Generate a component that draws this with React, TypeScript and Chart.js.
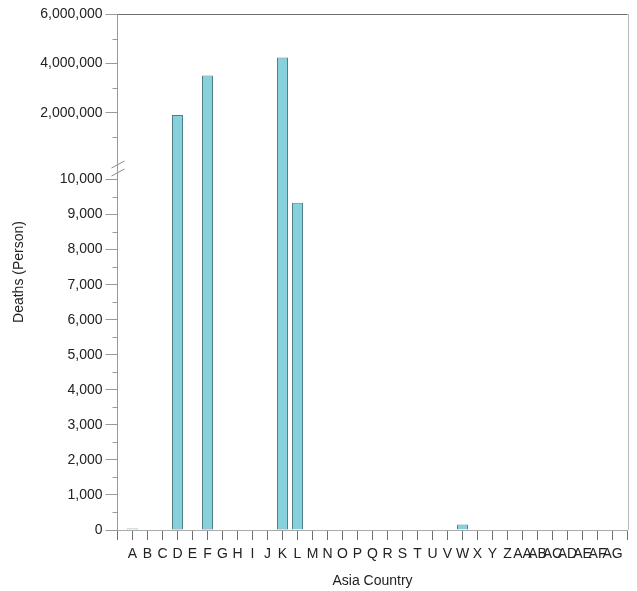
import React, { useEffect, useRef } from 'react';
import { Chart, registerables } from 'chart.js';

Chart.register(...registerables);

const categories = [
  'A', 'B', 'C', 'D', 'E', 'F', 'G', 'H', 'I', 'J', 'K', 'L', 'M', 'N', 'O', 'P', 'Q',
  'R', 'S', 'T', 'U', 'V', 'W', 'X', 'Y', 'Z', 'AA', 'AB', 'AC', 'AD', 'AE', 'AF', 'AG',
];
const deaths = [
  45, 0, 0, 1910000, 0, 3505000, 0, 0, 0, 0, 4240000, 9340, 0, 0, 0, 0, 0,
  0, 0, 0, 0, 0, 160, 15, 0, 0, 0, 0, 0, 0, 0, 0, 0,
];
const lowTicks = [0, 1000, 2000, 3000, 4000, 5000, 6000, 7000, 8000, 9000, 10000];
const highTicks = [2000000, 4000000, 6000000];
const LOW_MAX = 10500;
const HIGH_MAX = 6000000;
const yTitle = 'Deaths (Person)';
const xTitle = 'Asia Country';

const FONT = "'Liberation Sans', Arial, sans-serif";
const fmt = (v: number) => Math.round(v).toLocaleString('en-US');

const decorPlugin = {
  id: 'decor',
  afterDraw(chart: any) {
    const { ctx, chartArea } = chart;
    const low = chart.scales.yLow;
    const high = chart.scales.yHigh;
    ctx.save();
    ctx.lineWidth = 1;
    ctx.strokeStyle = '#6e6e6e';
    ctx.beginPath();
    ctx.moveTo(chartArea.left, Math.round(chartArea.top) + 0.5);
    ctx.lineTo(chartArea.right, Math.round(chartArea.top) + 0.5);
    ctx.stroke();
    ctx.strokeStyle = '#b8b8b8';
    ctx.beginPath();
    ctx.moveTo(Math.round(chartArea.right) + 0.5, chartArea.top);
    ctx.lineTo(Math.round(chartArea.right) + 0.5, chartArea.bottom);
    ctx.stroke();
    // minor ticks (midway between labelled ticks)
    ctx.strokeStyle = '#9a9a9a';
    const ax = Math.floor(chartArea.left) + 0.5;
    ctx.beginPath();
    const minor = (scale: any, vals: number[], start: number) => {
      const all = [start, ...vals];
      for (let i = 1; i < all.length; i++) {
        const y = Math.round(scale.getPixelForValue((all[i - 1] + all[i]) / 2)) + 0.5;
        ctx.moveTo(ax - 5, y);
        ctx.lineTo(ax, y);
      }
    };
    minor(low, lowTicks.slice(1), lowTicks[0]);
    minor(high, highTicks, 0);
    ctx.stroke();
    // break marks
    const yb = low.top + 6;
    ctx.strokeStyle = '#8a8a8a';
    ctx.beginPath();
    ctx.moveTo(ax - 6, yb);
    ctx.lineTo(ax + 7, yb - 7);
    ctx.moveTo(ax - 6, yb + 8);
    ctx.lineTo(ax + 7, yb + 1);
    ctx.stroke();
    // y title
    ctx.fillStyle = '#222';
    ctx.font = `14px ${FONT}`;
    ctx.textAlign = 'center';
    ctx.textBaseline = 'middle';
    ctx.translate(19, (chartArea.top + chartArea.bottom) / 2);
    ctx.rotate(-Math.PI / 2);
    ctx.fillText(yTitle, 0, 0);
    ctx.restore();
  },
};

export default function App() {
  const ref = useRef<HTMLCanvasElement>(null);
  useEffect(() => {
    if (!ref.current) return;
    Chart.defaults.font.family = FONT;
    const labels = ['', ...categories, ''];
    // lower segment: bars above the break run slightly past it (hidden under the upper bar)
    const lowData = [null, ...deaths.map((v) => (v > LOW_MAX ? LOW_MAX + 300 : v)), null];
    const highData = [null, ...deaths.map((v) => (v > LOW_MAX ? v : null)), null];
    const barStyle = {
      backgroundColor: '#86d1db',
      borderColor: '#4f8088',
      borderWidth: 1,
      categoryPercentage: 1,
      barPercentage: 11 / 15,
      grouped: false,
      inflateAmount: 0,
    };
    const chart = new Chart(ref.current, {
      type: 'bar',
      data: {
        labels,
        datasets: [
          {
            ...barStyle,
            data: lowData as any,
            yAxisID: 'yLow',
            borderSkipped: (c: any) => (c.raw > LOW_MAX ? 'top' : 'start'),
          } as any,
          {
            ...barStyle,
            data: highData as any,
            yAxisID: 'yHigh',
            borderSkipped: 'start',
          } as any,
        ],
      },
      options: {
        animation: false,
        responsive: true,
        maintainAspectRatio: false,
        layout: { padding: { left: 0, top: 14, right: 9.5, bottom: 0 } },
        plugins: { legend: { display: false }, tooltip: { enabled: false } },
        scales: {
          x: {
            offset: false,
            grid: { offset: false, drawOnChartArea: false, tickLength: 10, tickColor: '#707070' },
            border: { color: '#aaaaaa' },
            ticks: { color: '#222', font: { size: 14 }, padding: 6, autoSkip: false, maxRotation: 0 },
            title: { display: true, text: xTitle, color: '#222', font: { size: 14 }, padding: { top: 4, bottom: 1 } },
            afterFit: (s: any) => { s.height = 61; },
          },
          yLow: {
            type: 'linear',
            position: 'left',
            stack: 'y',
            stackWeight: 368,
            min: 0,
            max: LOW_MAX,
            grid: { drawOnChartArea: false, tickLength: 12, tickColor: '#9a9a9a' },
            border: { color: '#9a9a9a' },
            ticks: { autoSkip: false, color: '#222', font: { size: 14 }, padding: 3, callback: (v: any) => fmt(v) },
            afterBuildTicks: (s: any) => { s.ticks = lowTicks.map((value) => ({ value })); },
            afterFit: (s: any) => { s.width = 117.5; },
          },
          yHigh: {
            type: 'linear',
            position: 'left',
            stack: 'y',
            stackWeight: 148,
            min: 0,
            max: HIGH_MAX,
            grid: { drawOnChartArea: false, tickLength: 12, tickColor: '#9a9a9a' },
            border: { color: '#9a9a9a' },
            ticks: { autoSkip: false, color: '#222', font: { size: 14 }, padding: 3, callback: (v: any) => fmt(v) },
            afterBuildTicks: (s: any) => { s.ticks = highTicks.map((value) => ({ value })); },
            afterFit: (s: any) => { s.width = 117.5; },
          },
        } as any,
      },
      plugins: [decorPlugin],
    });
    return () => chart.destroy();
  }, []);
  return (
    <div style={{ position: 'fixed', left: 0, top: 0, width: 637, height: 591, background: '#fff' }}>
      <canvas ref={ref} />
    </div>
  );
}
